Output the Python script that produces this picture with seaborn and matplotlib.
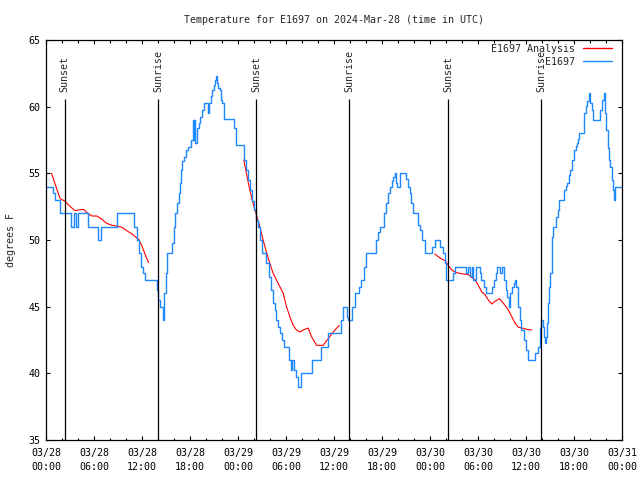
import numpy as np
import pandas as pd
import matplotlib
matplotlib.use("Agg")
import matplotlib.pyplot as plt
import matplotlib.dates as mdates
from matplotlib.lines import Line2D
import seaborn as sns

# ---------------- data ----------------
start = pd.Timestamp("2024-03-28 00:00")
station = "E1697"
title = "Temperature for E1697 on 2024-Mar-28 (time in UTC)"
ylabel = "degrees F"

# observed temperature (hours since start, degF) - step changes
obs_hours = [0.0, 0.9, 1.1, 1.8, 3.1, 3.45, 3.75, 4.0, 5.2, 6.55, 6.85, 8.85, 11.0, 11.4, 11.6, 11.85,
             12.1, 12.35, 13.85, 14.0, 14.2, 14.6, 14.8, 14.95, 15.1, 15.8, 16.0, 16.15, 16.35, 16.6,
             16.75, 16.9, 17.05, 17.25, 17.45, 17.7, 18.1, 18.35, 18.45, 18.55, 18.65, 18.85, 19.1,
             19.3, 19.5, 19.75, 20.3, 20.4, 20.6, 20.8, 21.0, 21.1, 21.2, 21.35, 21.5, 21.7, 21.85,
             22.0, 22.25, 23.5, 23.75, 24.8, 25.0, 25.25, 25.45, 25.7, 25.95, 26.2, 26.5, 26.8, 27.0,
             27.55, 27.85, 28.15, 28.35, 28.6, 28.8, 29.05, 29.3, 29.55, 29.75, 30.4, 30.6, 30.8,
             31.0, 31.25, 31.5, 31.9, 33.3, 34.4, 35.25, 36.9, 37.1, 37.6, 37.8, 38.3, 38.6, 39.1,
             39.4, 39.8, 40.05, 41.2, 41.5, 41.7, 42.3, 42.55, 42.75, 42.95, 43.2, 43.4, 43.6, 43.7,
             43.9, 44.3, 44.95, 45.2, 45.45, 45.65, 45.9, 46.5, 46.75, 47.0, 47.35, 48.3, 48.6, 49.3,
             49.6, 49.9, 50.05, 50.85, 51.1, 52.45, 52.8, 53.05, 53.25, 53.4, 53.75, 54.2, 54.4,
             54.7, 54.95, 55.7, 55.95, 56.2, 56.4, 56.8, 57.0, 57.2, 57.45, 57.65, 57.85, 58.05,
             58.25, 58.45, 58.65, 58.8, 59.0, 59.2, 59.4, 59.7, 59.95, 60.25, 61.1, 61.5, 61.7,
             61.9, 62.1, 62.2, 62.35, 62.5, 62.65, 62.8, 62.9, 63.05, 63.2, 63.3, 63.4, 63.8, 63.95,
             64.1, 64.75, 64.95, 65.15, 65.35, 65.5, 65.8, 66.0, 66.2, 66.4, 66.55, 66.65, 67.25,
             67.45, 67.65, 67.85, 68.0, 68.2, 68.4, 69.3, 69.55, 69.7, 69.85, 70.05, 70.2, 70.35,
             70.55, 70.7, 70.85, 70.95, 71.15, 72.0]
obs_temps = [54, 53.5, 53, 52, 51, 52, 51, 52, 51, 50, 51, 52, 51, 50, 49, 48,
             47.5, 47, 46.25, 45.5, 45, 44, 46, 47.5, 49, 49.75, 51, 52, 52.75, 53.5,
             54.25, 55.25, 55.9, 56.25, 56.75, 57, 57.5, 59, 57.5, 59, 57.3, 58.4, 58.75,
             59.25, 59.75, 60.3, 59.5, 60.3, 60.8, 61.25, 61.6, 62, 62.3, 61.75, 61.4, 61.25, 60.5,
             60.25, 59.1, 58.4, 57.1, 56, 55.25, 54.5, 53.75, 52.9, 52.25, 51.5, 51, 50, 49,
             48.25, 47.25, 46.25, 45.25, 44.75, 44, 43.5, 43, 42.5, 42, 41, 40.25, 41,
             40.25, 39.75, 39, 40, 41, 42, 43, 44, 45, 44.25, 44, 45, 46, 46.5,
             47, 48, 49, 50, 50.6, 51, 52, 52.75, 53.5, 54, 54.4, 54.75, 55, 54.25,
             54, 55, 54.6, 54, 53.5, 52.75, 52, 51.1, 50.75, 50, 49, 49.5, 50, 49.5,
             49, 48.25, 47, 47.5, 48, 47.5, 48, 47.3, 48, 47, 48, 47.5, 47,
             46.5, 46, 46.5, 47, 47.5, 48, 47.5, 48, 47, 46.25, 45.75, 45, 46,
             46.5, 46.75, 47, 46.5, 45, 44, 43.25, 42.5, 41.75, 41, 41.5, 42, 43.4,
             44, 43.5, 42.75, 42.25, 42.75, 43.75, 45.25, 46.5, 47.5, 48.9, 50.25, 51, 51.75, 52.25,
             53, 53.75, 54.05, 54.25, 54.9, 55.25, 56, 56.75, 57.05, 57.25, 57.6, 58, 59.5,
             60.05, 60.4, 61, 60.25, 59.75, 59, 59.75, 60.5, 61, 59.5, 58.25, 56.9, 56,
             55.5, 54.5, 53.75, 53, 54, 54]

# analysis temperature (three segments)
ana_hours = [0.69, 1.36, 1.77, 2.4, 3.03, 3.65, 4.07, 4.69, 5.1, 5.74, 6.36, 6.98, 7.6, 8.24, 8.86,
             9.49, 10.1, 10.74, 11.58, 12.0, 12.4, 12.83,
             24.72, 25.05, 25.47, 25.89, 26.3, 26.72, 27.14, 27.56, 27.98, 28.39, 28.81, 29.23,
             29.65, 30.06, 30.48, 30.9, 31.3, 31.72, 32.14, 32.77, 33.19, 33.82, 34.65, 35.27,
             35.9, 36.65,
             48.6, 49.25, 49.87, 50.29, 50.71, 51.33, 52.17, 52.79, 53.21, 53.63, 54.05, 54.47,
             54.88, 55.3, 55.72, 56.13, 56.68, 57.18, 57.8, 58.22, 58.64, 59.05, 59.47, 60.1, 60.72]
ana_temps = [55, 53.8, 53.1, 52.9, 52.5, 52.2, 52.25, 52.3, 52.05, 51.8, 51.8, 51.55, 51.25, 51.1, 51.05,
             50.95, 50.7, 50.45, 50.05, 49.55, 48.9, 48.3,
             56, 55, 53.75, 52.75, 51.9, 51, 50, 49.1, 48.25, 47.5, 47, 46.5,
             46, 45, 44.25, 43.6, 43.25, 43.1, 43.25, 43.4, 42.75, 42.1, 42.1, 42.6,
             43.1, 43.6,
             48.95, 48.65, 48.45, 48.1, 47.75, 47.55, 47.45, 47.4, 47.2, 47.0, 46.6, 46.1,
             45.9, 45.5, 45.2, 45.4, 45.6, 45.25, 44.75, 44.25, 43.75, 43.45, 43.4, 43.3, 43.25]
ana_segment = [1] * 22 + [2] * 26 + [3] * 25

sun_hours = [2.33, 14.0, 26.25, 37.92, 50.3, 61.92]
sun_labels = ["Sunset", "Sunrise", "Sunset", "Sunrise", "Sunset", "Sunrise"]

y_ticks = [35, 40, 45, 50, 55, 60, 65]

# ---------------- build frames ----------------
obs = pd.DataFrame({"time": start + pd.to_timedelta(obs_hours, unit="h"), "temp": obs_temps})
ana = pd.DataFrame({"time": start + pd.to_timedelta(ana_hours, unit="h"), "temp": ana_temps,
                    "seg": ana_segment})

# ---------------- style ----------------
sns.set_style("ticks")
plt.rcParams["font.family"] = ["DejaVu Sans Mono", "DejaVu Sans"]
plt.rcParams["font.size"] = 7

fig = plt.figure(figsize=(6.4, 4.8), dpi=100)
ax = fig.add_axes([46 / 640, 40 / 480, 576 / 640, 400 / 480])

red = "#ff0000"
blue = "#1e88ff"

sns.lineplot(data=ana, x="time", y="temp", units="seg", estimator=None, color=red,
             linewidth=0.8, ax=ax, legend=False)
sns.lineplot(data=obs, x="time", y="temp", color=blue, linewidth=1.0, drawstyle="steps-post",
             estimator=None, ax=ax, legend=False)

# sunrise / sunset markers
sun_times = start + pd.to_timedelta(sun_hours, unit="h")
ax.vlines(sun_times, 35, 60.6, colors="black", linewidth=0.9)
for t, lab in zip(sun_times, sun_labels):
    ax.text(t, 61.1, lab, rotation=90, ha="center", va="bottom", fontsize=7.2)

ax.set_xlim(start, start + pd.Timedelta(hours=72))
ax.set_ylim(35, 65)
ax.set_yticks(y_ticks)
ax.xaxis.set_major_locator(mdates.HourLocator(byhour=range(0, 24, 6)))
ax.xaxis.set_minor_locator(mdates.HourLocator(byhour=range(0, 24, 2)))
ax.xaxis.set_major_formatter(mdates.DateFormatter("%m/%d\n%H:%M"))
ax.tick_params(axis="both", which="both", direction="in", top=True, right=True,
               colors="black", labelsize=7.2, width=0.8)
ax.tick_params(axis="both", which="major", length=3.2)
ax.tick_params(axis="both", which="minor", length=1.8)
ax.tick_params(axis="x", which="major", pad=6)
ax.tick_params(axis="y", which="major", pad=4)
for lbl in ax.get_xticklabels():
    lbl.set_linespacing(1.5)
for s in ax.spines.values():
    s.set_linewidth(0.9)
    s.set_color("black")
    s.set_visible(True)

ax.set_xlabel("")
ax.set_ylabel(ylabel, fontsize=7.2, labelpad=9)
ax.set_title(title, fontsize=7.2, pad=12)

handles = [Line2D([], [], color=red, linewidth=1.0), Line2D([], [], color=blue, linewidth=1.0)]
ax.legend(handles, [f"{station} Analysis", station], loc="upper right", frameon=False,
          markerfirst=False, fontsize=7.2, handlelength=2.9, handletextpad=0.8,
          labelspacing=0.3, borderaxespad=0.0, bbox_to_anchor=(0.99, 1.0))

fig.savefig("out.png", dpi=100)
